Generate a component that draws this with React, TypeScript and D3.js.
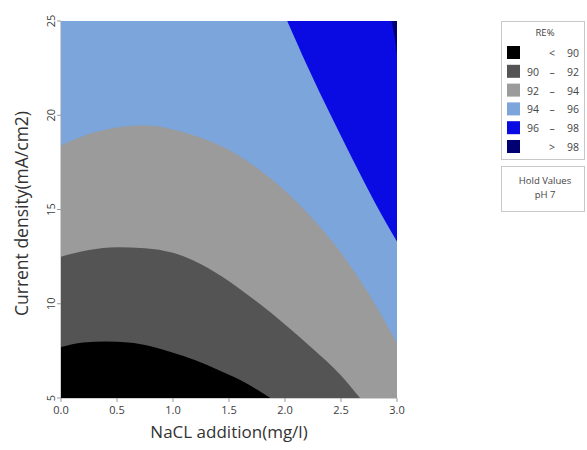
import * as d3 from 'd3';

type Pt = [number, number];

// axis ticks
const xTicks = [0, 0.5, 1, 1.5, 2, 2.5, 3];
const yTicks = [5, 10, 15, 20, 25];

// legend
const legendTitle = 'RE%';
const bandLow = ['', '90', '92', '94', '96', ''];
const bandHigh = ['90', '92', '94', '96', '98', '98'];
const bandSign = ['<', '–', '–', '–', '–', '>'];
const bandColors = ['#000000', '#545454', '#9b9b9b', '#7ba5db', '#0a0ae2', '#000072'];
const holdLabels = ['Hold Values', 'pH 7'];

// contour boundaries: [NaCl, current density]
const edge90: Pt[] = [[0, 7.7], [0.2, 7.95], [0.4, 8.0], [0.6, 7.95], [0.8, 7.75], [1.0, 7.4], [1.2, 7.0], [1.4, 6.5], [1.6, 5.95], [1.75, 5.45], [1.87, 5]];
const edge92: Pt[] = [[0, 12.5], [0.25, 12.85], [0.5, 13.0], [0.75, 12.95], [1.0, 12.7], [1.25, 12.1], [1.5, 11.2], [1.75, 10.1], [2.0, 8.9], [2.25, 7.6], [2.5, 6.2], [2.67, 5]];
const edge94: Pt[] = [[0, 18.4], [0.25, 19.0], [0.5, 19.35], [0.75, 19.45], [1.0, 19.25], [1.25, 18.8], [1.5, 18.15], [1.75, 17.2], [2.0, 16.0], [2.25, 14.5], [2.5, 12.7], [2.75, 10.5], [3.0, 7.9]];
const edge96: Pt[] = [[2.02, 25], [2.2, 22.6], [2.4, 20.1], [2.6, 17.7], [2.8, 15.4], [3.0, 13.3]];
const edge98: Pt[] = [[2.95, 25], [2.98, 24.1], [3.0, 23.2]];

const W = 587;
const H = 450;
const plot = { left: 61, right: 397, top: 21, bottom: 398 };
const font = '"Open Sans", "DejaVu Sans", sans-serif';

export default function App() {
  const x = d3.scaleLinear().domain([0, 3]).range([plot.left, plot.right]);
  const y = d3.scaleLinear().domain([5, 25]).range([plot.bottom, plot.top]);

  // region under a boundary curve
  const below = d3.area<Pt>()
    .x(d => x(d[0]))
    .y0(y(5))
    .y1(d => y(d[1]))
    .curve(d3.curveMonotoneX);

  // region above a boundary curve
  const above = d3.area<Pt>()
    .x(d => x(d[0]))
    .y0(y(25))
    .y1(d => y(d[1]))
    .curve(d3.curveMonotoneX);

  const legendX = 501;
  const legendY = 21;
  const rowY = (i: number) => legendY + 32 + i * 18.8;

  return (
    <svg width={W} height={H} style={{ position: 'absolute', left: 0, top: 0, background: '#fff' }}>
      <defs>
        <clipPath id="plotClip">
          <rect x={plot.left} y={plot.top} width={plot.right - plot.left} height={plot.bottom - plot.top} />
        </clipPath>
      </defs>

      <g clipPath="url(#plotClip)">
        <rect x={plot.left} y={plot.top} width={plot.right - plot.left} height={plot.bottom - plot.top} fill={bandColors[3]} />
        <path d={below(edge94) || ''} fill={bandColors[2]} />
        <path d={below(edge92) || ''} fill={bandColors[1]} />
        <path d={below(edge90) || ''} fill={bandColors[0]} />
        <path d={above(edge96) || ''} fill={bandColors[4]} />
        <path d={above(edge98) || ''} fill={bandColors[5]} />
      </g>

      {/* axes */}
      <line x1={plot.left} x2={plot.right} y1={plot.bottom + 0.5} y2={plot.bottom + 0.5} stroke="#d0d0d0" />
      <line x1={plot.left - 0.5} x2={plot.left - 0.5} y1={plot.top} y2={plot.bottom} stroke="#d0d0d0" />
      {xTicks.map(t => (
        <g key={'x' + t}>
          <line x1={x(t)} x2={x(t)} y1={plot.bottom} y2={plot.bottom + 4} stroke="#999" />
          <text x={x(t)} y={plot.bottom + 16} textAnchor="middle" fontFamily={font} fontSize={11} fill="#404040">
            {d3.format('.1f')(t)}
          </text>
        </g>
      ))}
      {yTicks.map(t => (
        <g key={'y' + t}>
          <line x1={plot.left - 4} x2={plot.left} y1={y(t)} y2={y(t)} stroke="#999" />
          <text
            transform={`translate(${plot.left - 6},${y(t)}) rotate(-90)`}
            textAnchor="middle"
            fontFamily={font}
            fontSize={11}
            fill="#404040"
          >
            {t}
          </text>
        </g>
      ))}
      <text x={(plot.left + plot.right) / 2} y={438} textAnchor="middle" fontFamily={font} fontSize={17} fill="#333">
        NaCL addition(mg/l)
      </text>
      <text
        transform={`translate(28,${(plot.top + plot.bottom) / 2 + 4}) rotate(-90)`}
        textAnchor="middle"
        fontFamily={font}
        fontSize={17.5}
        fill="#333"
      >
        Current density(mA/cm2)
      </text>

      {/* legend */}
      <rect x={legendX + 0.5} y={legendY + 0.5} width={83} height={138} fill="#fff" stroke="#c8c8c8" />
      <text x={legendX + 44} y={legendY + 15} textAnchor="middle" fontFamily={font} fontSize={9.5} fill="#444">
        {legendTitle}
      </text>
      {bandColors.map((c, i) => (
        <g key={'lg' + i}>
          <rect x={legendX + 6} y={rowY(i) - 7} width={13} height={13} fill={c} />
          {bandLow[i] && (
            <text x={legendX + 26} y={rowY(i) + 4} fontFamily={font} fontSize={10.5} fill="#444">
              {bandLow[i]}
            </text>
          )}
          <text x={legendX + 51} y={rowY(i) + 4} textAnchor="middle" fontFamily={font} fontSize={10.5} fill="#444">
            {bandSign[i]}
          </text>
          <text x={legendX + 78} y={rowY(i) + 4} textAnchor="end" fontFamily={font} fontSize={10.5} fill="#444">
            {bandHigh[i]}
          </text>
        </g>
      ))}
      <rect x={legendX + 0.5} y={166.5} width={83} height={45} fill="#fff" stroke="#c8c8c8" />
      {holdLabels.map((s, i) => (
        <text key={s} x={legendX + 44} y={184 + i * 14} textAnchor="middle" fontFamily={font} fontSize={9.5} fill="#444">
          {s}
        </text>
      ))}
    </svg>
  );
}
